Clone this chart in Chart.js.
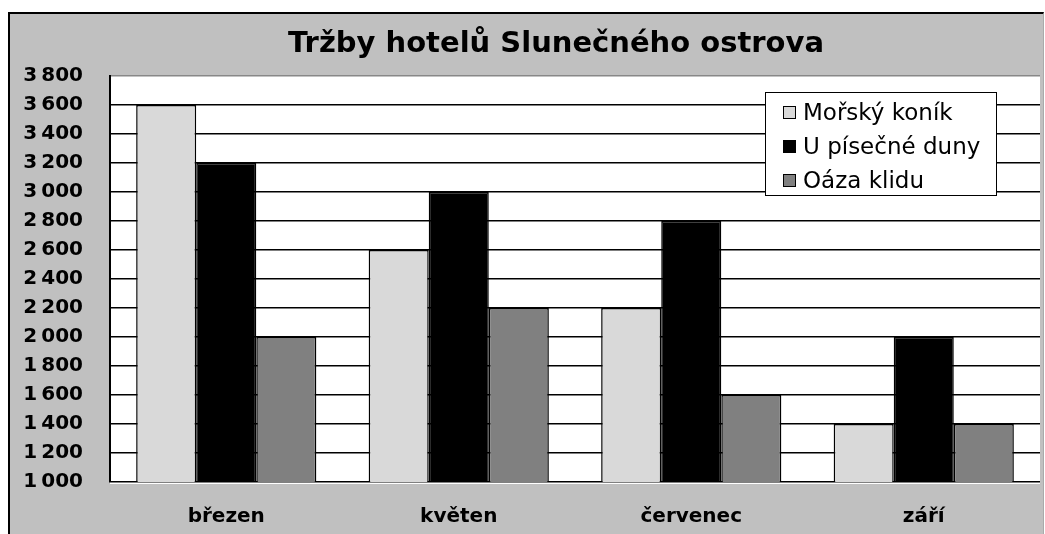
<!DOCTYPE html>
<html>
<head>
<meta charset="utf-8">
<script src="https://cdn.jsdelivr.net/npm/chart.js@4/dist/chart.umd.min.js"></script>
<style>
  html, body { margin: 0; padding: 0; background: #fff; }
  #frame {
    position: absolute; left: 8px; top: 12px; width: 1033px; height: 530px;
    background: #c0c0c0; border-left: 2px solid #000; border-top: 2px solid #000;
    border-right: 1px solid #aaa;
  }
  #wrap { position: absolute; left: 0; top: 0; width: 1045px; height: 534px; }
  #legend {
    position: absolute; left: 765px; top: 92px; width: 230px; height: 102px;
    background: #fff; border: 1px solid #000;
    font-family: 'DejaVu Sans', sans-serif; font-size: 23px; color: #000;
  }
  .item { position: absolute; left: 17px; height: 34px; line-height: 34px; white-space: nowrap; }
  .box { display: inline-block; width: 11px; height: 11px; border: 1px solid #000; margin-right: 7px; vertical-align: 1px; }
</style>
</head>
<body>
<div id="frame"></div>
<div id="wrap"><canvas id="salesChart" width="1045" height="534"></canvas></div>
<div id="legend"></div>
<script>
const chartTitle = 'Tržby hotelů Slunečného ostrova';
const months = ['březen', 'květen', 'červenec', 'září'];
const hotelNames = ['Mořský koník', 'U písečné duny', 'Oáza klidu'];
const morskyKonik = [3600, 2600, 2200, 1400];
const pisecneDuny = [3200, 3000, 2800, 2000];
const oazaKlidu = [2000, 2200, 1600, 1400];
const yMin = 1000, yMax = 3800, yStep = 200;

const colors = ['#d9d9d9', '#000000', '#808080'];
const seriesValues = [morskyKonik, pisecneDuny, oazaKlidu];

// white plot area behind the bars
const plotBackground = {
    id: 'plotBackground',
    beforeDraw(chart) {
        const a = chart.chartArea;
        const c = chart.ctx;
        c.save();
        c.fillStyle = '#ffffff';
        c.fillRect(a.left, a.top, a.right - a.left, a.bottom - a.top + 2);
        c.restore();
    }
};

// title sits a bit right of the canvas centre, like the original frame
const offsetTitle = {
    id: 'offsetTitle',
    afterDraw(chart) {
        const c = chart.ctx;
        c.save();
        c.fillStyle = '#000';
        c.font = "bold 29px 'DejaVu Sans', sans-serif";
        c.textAlign = 'center';
        c.textBaseline = 'middle';
        c.fillText(chartTitle, 556, 44);
        c.restore();
    }
};

const ctx = document.getElementById('salesChart');
new Chart(ctx, {
    type: 'bar',
    data: {
        labels: months,
        datasets: hotelNames.map((name, i) => ({
            label: name,
            data: seriesValues[i],
            backgroundColor: colors[i],
            borderColor: '#000000',
            borderWidth: 1.5,
            borderSkipped: false,
            categoryPercentage: 0.775,
            barPercentage: 1.0
        }))
    },
    options: {
        responsive: false,
        animation: false,
        layout: { padding: { left: 0, right: 5, top: 76, bottom: 0 } },
        plugins: {
            legend: { display: false },
            tooltip: { enabled: false },
            title: { display: false }
        },
        scales: {
            x: {
                grid: { display: false, drawTicks: false },
                border: { display: false },
                ticks: {
                    color: '#000',
                    padding: 23,
                    font: { family: "'DejaVu Sans', sans-serif", size: 20, weight: 'bold' }
                },
                afterFit(scale) { scale.height = 52; }
            },
            y: {
                min: yMin,
                max: yMax,
                grid: {
                    drawTicks: false,
                    color: (c) => c.tick && c.tick.value === yMax ? '#888888' : '#000000',
                    lineWidth: 1.5
                },
                border: { display: true, color: '#000', width: 2 },
                ticks: {
                    stepSize: yStep,
                    color: '#000',
                    padding: 27,
                    font: { family: "'DejaVu Sans', sans-serif", size: 20, weight: 'bold' },
                    callback: (v) => String(v).replace(/\B(?=(\d{3})+(?!\d))/g, '\u2009')
                },
                afterFit(scale) { scale.width = 110; }
            }
        }
    },
    plugins: [plotBackground, offsetTitle]
});

// legend as html text
const legend = document.getElementById('legend');
hotelNames.forEach((name, i) => {
    const row = document.createElement('div');
    row.className = 'item';
    row.style.top = (2 + i * 34) + 'px';
    row.innerHTML = '<span class="box" style="background:' + colors[i] + '"></span>' + name;
    legend.appendChild(row);
});
</script>
</body>
</html>
